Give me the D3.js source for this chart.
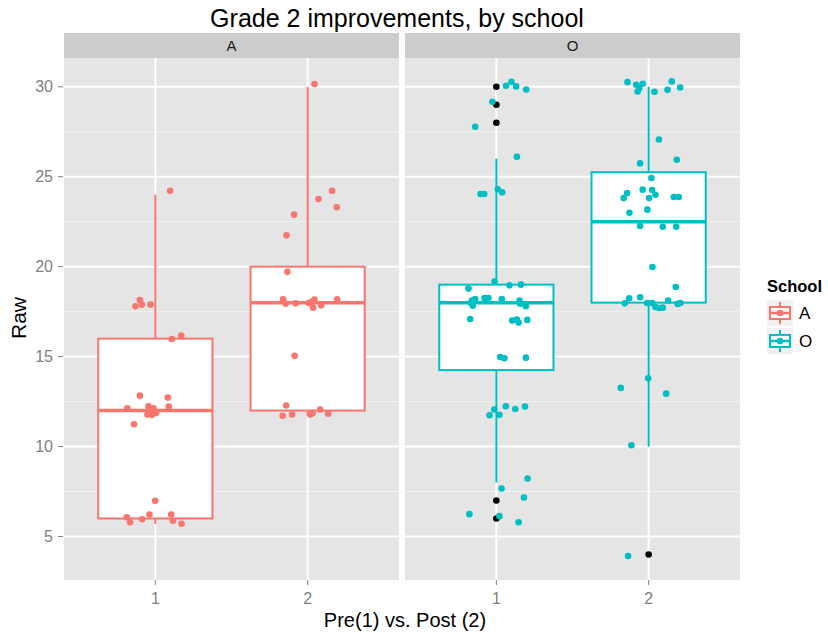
<!DOCTYPE html>
<html>
<head>
<meta charset="utf-8">
<script src="https://cdn.jsdelivr.net/npm/d3@7"></script>
<style>
  body { margin: 0; background: #fff; }
  text { font-family: "Liberation Sans", Arial, Helvetica, sans-serif; }
</style>
</head>
<body>
<div id="chart"></div>
<script>
// data: schools (facets), groups, box stats, jittered points [x, raw]
var schools = ["A", "O"];
var groups = [1, 2];
var yTicks = [5, 10, 15, 20, 25, 30];
var yMinor = [7.5, 12.5, 17.5, 22.5, 27.5];

var boxStats = [
  {school: "A", grp: 1, lo: 5.7, q1: 6, med: 12, q3: 16, hi: 24},
  {school: "A", grp: 2, lo: 11.7, q1: 12, med: 18, q3: 20, hi: 30},
  {school: "O", grp: 1, lo: 8, q1: 14.25, med: 18, q3: 19, hi: 26},
  {school: "O", grp: 2, lo: 10, q1: 18, med: 22.5, q3: 25.25, hi: 30}
];

var outliers = [
  {school: "O", grp: 1, v: 30}, {school: "O", grp: 1, v: 29}, {school: "O", grp: 1, v: 28},
  {school: "O", grp: 1, v: 7}, {school: "O", grp: 1, v: 6},
  {school: "O", grp: 2, v: 4}
];

var ptsA = [
  [1.097,24.22],[0.898,18.15],[0.869,17.8],[0.911,17.89],[0.968,17.89],[1.108,15.98],[1.17,16.17],
  [0.898,12.83],[1.082,12.72],[0.816,12.13],[0.955,12.24],[0.988,12.13],[1.088,12.22],[0.948,11.78],
  [0.977,11.76],[1.005,11.87],[0.966,11.96],[0.86,11.24],[0.999,6.98],[0.812,6.07],[0.834,5.79],
  [0.913,5.96],[0.961,6.22],[1.104,6.22],[1.115,5.87],[1.172,5.71],
  [2.045,30.15],[2.161,24.22],[2.071,23.76],[2.191,23.3],[1.911,22.89],[1.861,21.74],[1.867,19.71],
  [1.839,18.19],[1.856,17.94],[1.922,17.96],[2.007,17.98],[2.045,18.17],[2.036,17.72],[2.089,17.85],
  [2.194,18.19],[2.027,18.04],[1.915,15.04],[1.859,12.28],[1.836,11.71],[1.898,11.78],[2.018,11.78],
  [2.033,11.87],[2.082,12.06],[2.135,11.82]
];

var ptsO = [
  [1.064,30.06],[1.099,30.28],[1.13,30.02],[1.196,29.85],[0.974,29.17],[0.861,27.78],[1.135,26.11],
  [0.896,24.04],[0.92,24.04],[1.01,24.3],[1.038,24.13],[0.988,19.17],[1.086,18.96],[1.161,19.0],
  [0.817,18.78],[0.922,18.26],[0.948,18.26],[1.036,18.2],[0.839,18.11],[0.861,18.2],[0.845,17.83],
  [0.834,17.98],[1.152,18.11],[1.157,17.94],[1.194,17.8],[0.828,17.09],[1.104,17.0],[1.135,17.06],
  [1.146,16.89],[1.203,17.04],[1.025,14.98],[1.053,14.91],[1.194,14.94],[0.986,12.06],[1.062,12.24],
  [1.124,12.09],[1.188,12.22],[0.955,11.74],[1.02,11.76],[1.205,8.22],[1.034,7.67],[1.181,7.17],
  [0.823,6.24],[1.02,6.13],[1.146,5.79],
  [1.861,30.26],[1.918,30.11],[1.961,30.17],[1.939,29.93],[1.928,29.74],[2.038,29.72],[2.152,30.3],
  [2.124,29.83],[2.207,29.96],[2.067,27.07],[2.185,25.94],[1.944,25.74],[2.018,24.93],[1.961,24.28],
  [2.023,24.26],[1.859,24.09],[1.836,23.81],[2.045,24.0],[2.003,23.81],[2.165,23.87],[2.198,23.87],
  [1.874,23.0],[1.992,23.17],[1.944,22.26],[2.093,22.22],[2.181,22.22],[2.025,19.98],[2.178,18.87],
  [1.944,18.3],[1.872,18.24],[1.843,17.96],[1.99,17.98],[2.023,17.98],[2.045,17.76],[2.093,17.72],
  [2.069,17.7],[2.128,18.11],[2.191,17.93],[2.209,17.98],[1.997,13.8],[1.817,13.26],[2.115,12.94],
  [1.887,10.07],[1.865,3.91]
];

var points = {A: ptsA, O: ptsO};
var colors = {A: "#F8766D", O: "#00BFC4"};

// layout
var W = 828, H = 641;
var panelTop = 58, panelBottom = 580, stripTop = 33;
var panelLeft = {A: 64, O: 405};
var panelW = 335;

var svg = d3.select("#chart").append("svg")
  .attr("width", W).attr("height", H);

var y = d3.scaleLinear().domain([2.58, 31.6]).range([panelBottom, panelTop]);
var x = d3.scaleLinear().domain([0.4, 2.6]).range([0, panelW]);
var bw = x(1.375) - x(1); // half box width

// title
svg.append("text")
  .attr("x", 397).attr("y", 27)
  .attr("text-anchor", "middle")
  .attr("font-size", 25).attr("fill", "#000")
  .text("Grade 2 improvements, by school");

schools.forEach(function(s) {
  var g = svg.append("g").attr("transform", "translate(" + panelLeft[s] + ",0)");

  // strip
  g.append("rect").attr("x", 0).attr("y", stripTop)
    .attr("width", panelW).attr("height", panelTop - stripTop)
    .attr("fill", "#CCCCCC");
  g.append("text").attr("x", panelW / 2).attr("y", 51)
    .attr("text-anchor", "middle").attr("font-size", 15).attr("fill", "#1A1A1A")
    .text(s);

  // panel background
  g.append("rect").attr("x", 0).attr("y", panelTop)
    .attr("width", panelW).attr("height", panelBottom - panelTop)
    .attr("fill", "#E5E5E5");

  g.selectAll(".minor").data(yMinor).enter().append("line")
    .attr("x1", 0).attr("x2", panelW)
    .attr("y1", function(d) { return y(d); }).attr("y2", function(d) { return y(d); })
    .attr("stroke", "#F2F2F2").attr("stroke-width", 1);

  g.selectAll(".hmajor").data(yTicks).enter().append("line")
    .attr("x1", 0).attr("x2", panelW)
    .attr("y1", function(d) { return y(d); }).attr("y2", function(d) { return y(d); })
    .attr("stroke", "#fff").attr("stroke-width", 2);

  g.selectAll(".vmajor").data(groups).enter().append("line")
    .attr("x1", function(d) { return x(d); }).attr("x2", function(d) { return x(d); })
    .attr("y1", panelTop).attr("y2", panelBottom)
    .attr("stroke", "#fff").attr("stroke-width", 2);

  // x axis ticks + labels
  g.selectAll(".xtick").data(groups).enter().append("line")
    .attr("x1", function(d) { return x(d); }).attr("x2", function(d) { return x(d); })
    .attr("y1", panelBottom).attr("y2", panelBottom + 5)
    .attr("stroke", "#7F7F7F").attr("stroke-width", 1);
  g.selectAll(".xlab").data(groups).enter().append("text")
    .attr("x", function(d) { return x(d); }).attr("y", 604)
    .attr("text-anchor", "middle").attr("font-size", 16).attr("fill", "#7F7F7F")
    .text(function(d) { return d; });

  // boxplots
  var col = colors[s];
  var bs = boxStats.filter(function(d) { return d.school === s; });
  var bg = g.selectAll(".box").data(bs).enter().append("g");
  bg.append("line")
    .attr("x1", function(d) { return x(d.grp); }).attr("x2", function(d) { return x(d.grp); })
    .attr("y1", function(d) { return y(d.hi); }).attr("y2", function(d) { return y(d.q3); })
    .attr("stroke", col).attr("stroke-width", 2);
  bg.append("line")
    .attr("x1", function(d) { return x(d.grp); }).attr("x2", function(d) { return x(d.grp); })
    .attr("y1", function(d) { return y(d.q1); }).attr("y2", function(d) { return y(d.lo); })
    .attr("stroke", col).attr("stroke-width", 2);
  bg.append("rect")
    .attr("x", function(d) { return x(d.grp) - bw; })
    .attr("y", function(d) { return y(d.q3); })
    .attr("width", 2 * bw)
    .attr("height", function(d) { return y(d.q1) - y(d.q3); })
    .attr("fill", "#fff").attr("stroke", col).attr("stroke-width", 2);
  bg.append("line")
    .attr("x1", function(d) { return x(d.grp) - bw; }).attr("x2", function(d) { return x(d.grp) + bw; })
    .attr("y1", function(d) { return y(d.med); }).attr("y2", function(d) { return y(d.med); })
    .attr("stroke", col).attr("stroke-width", 3.5);

  g.selectAll(".outlier").data(outliers.filter(function(d) { return d.school === s; }))
    .enter().append("circle")
    .attr("cx", function(d) { return x(d.grp); })
    .attr("cy", function(d) { return y(d.v); })
    .attr("r", 3.3).attr("fill", "#000");

  // jittered points
  g.selectAll(".pt").data(points[s]).enter().append("circle")
    .attr("cx", function(d) { return x(d[0]); })
    .attr("cy", function(d) { return y(d[1]); })
    .attr("r", 3.3).attr("fill", col);
});

// y axis
var ya = svg.append("g");
ya.selectAll("line").data(yTicks).enter().append("line")
  .attr("x1", 58).attr("x2", 63)
  .attr("y1", function(d) { return y(d); }).attr("y2", function(d) { return y(d); })
  .attr("stroke", "#7F7F7F").attr("stroke-width", 1);
ya.selectAll("text").data(yTicks).enter().append("text")
  .attr("x", 53).attr("y", function(d) { return y(d); })
  .attr("dy", "0.35em")
  .attr("text-anchor", "end").attr("font-size", 16).attr("fill", "#7F7F7F")
  .text(function(d) { return d; });

// axis titles
svg.append("text")
  .attr("transform", "translate(26,318) rotate(-90)")
  .attr("text-anchor", "middle").attr("font-size", 21).attr("fill", "#000")
  .text("Raw");
svg.append("text")
  .attr("x", 405).attr("y", 627)
  .attr("text-anchor", "middle").attr("font-size", 20).attr("fill", "#000")
  .text("Pre(1) vs. Post (2)");

// legend
var leg = svg.append("g");
leg.append("text").attr("x", 767).attr("y", 292)
  .attr("font-size", 16.5).attr("font-weight", "bold").attr("fill", "#000")
  .text("School");
var keyH = 26;
schools.forEach(function(s, i) {
  var ky = 300 + i * (keyH + 2);
  var cx = 780, cy = ky + keyH / 2;
  var k = leg.append("g");
  k.append("rect").attr("x", 767).attr("y", ky).attr("width", 26).attr("height", keyH)
    .attr("fill", "#F2F2F2");
  k.append("line").attr("x1", cx).attr("x2", cx).attr("y1", ky + 2).attr("y2", ky + keyH - 2)
    .attr("stroke", colors[s]).attr("stroke-width", 2);
  k.append("rect").attr("x", cx - 10).attr("y", cy - 6).attr("width", 20).attr("height", 12)
    .attr("fill", "#fff").attr("stroke", colors[s]).attr("stroke-width", 2);
  k.append("line").attr("x1", cx - 10).attr("x2", cx + 10).attr("y1", cy).attr("y2", cy)
    .attr("stroke", colors[s]).attr("stroke-width", 2.5);
  k.append("circle").attr("cx", cx).attr("cy", cy).attr("r", 3.3).attr("fill", colors[s]);
  k.append("text").attr("x", 799).attr("y", cy).attr("dy", "0.35em")
    .attr("font-size", 17).attr("fill", "#000").text(s);
});
</script>
</body>
</html>
